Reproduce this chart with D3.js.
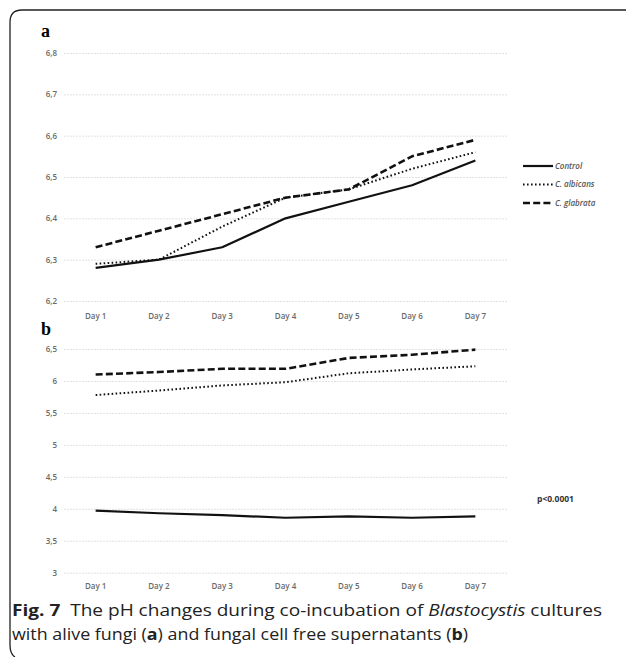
<!DOCTYPE html>
<html><head><meta charset="utf-8">
<script src="https://cdn.jsdelivr.net/npm/d3@7"></script>
<style>body{margin:0;background:#fff}svg{display:block}</style>
</head><body>
<svg id="chart" width="627" height="657"></svg>
<script>
const days = ["Day 1","Day 2","Day 3","Day 4","Day 5","Day 6","Day 7"];
const seriesNames = ["Control","C. albicans","C. glabrata"];
// Panel a: alive fungi
const aControl  = [6.28,6.30,6.33,6.40,6.44,6.48,6.54];
const aAlbicans = [6.29,6.30,6.38,6.45,6.47,6.52,6.56];
const aGlabrata = [6.33,6.37,6.41,6.45,6.47,6.55,6.59];
const aTicks = [6.2,6.3,6.4,6.5,6.6,6.7,6.8];
// Panel b: fungal cell free supernatants
const bControl  = [3.97,3.93,3.90,3.86,3.88,3.86,3.88];
const bAlbicans = [5.78,5.85,5.93,5.98,6.12,6.18,6.23];
const bGlabrata = [6.10,6.14,6.19,6.19,6.36,6.41,6.49];
const bTicks = [3,3.5,4,4.5,5,5.5,6,6.5];

const svg = d3.select("#chart");
const styles = [
  {w:2.2, dash:null},
  {w:2.0, dash:"1.6,2.4"},
  {w:2.6, dash:"7,3.2"}
];
const comma = v => String(v).replace(".", ",");
const tickFont = "Open Sans, sans-serif";

// frame
svg.append("path")
  .attr("d","M626,10 L22,10 Q10,10 10,22 L10,645 Q10,654 15,657")
  .attr("fill","none").attr("stroke","#222").attr("stroke-width",1.3);

const x = d3.scaleBand().domain(days).range([64,507]);
const cx = d => x(d) + x.bandwidth()/2;

function panel(yTop, yBot, domain, ticks, series, fmt, xLabelY){
  const y = d3.scaleLinear().domain(domain).range([yBot, yTop]);
  const g = svg.append("g");
  const grid = g.append("g").attr("transform","translate(64,0)")
    .call(d3.axisLeft(y).tickValues(ticks).tickSize(-443).tickFormat(fmt).tickPadding(7));
  grid.select(".domain").remove();
  grid.selectAll(".tick line").attr("stroke","#d9d9d9").attr("stroke-width",0.8).attr("stroke-dasharray","2,1");
  grid.selectAll(".tick text").attr("fill","#6a6a6a").attr("font-family",tickFont)
    .attr("font-size",8).attr("font-weight",600);
  const xa = g.append("g").attr("transform",`translate(0,${xLabelY})`)
    .call(d3.axisBottom(x).tickSize(0).tickPadding(0));
  xa.select(".domain").remove();
  xa.selectAll(".tick text").attr("fill","#6a6a6a").attr("font-family",tickFont)
    .attr("font-size",8).attr("font-weight",600).attr("dy","0.32em");
  const line = d3.line().x((d,i)=>cx(days[i])).y(d=>y(d));
  series.forEach((s,i)=>{
    g.append("path").datum(s).attr("d",line).attr("fill","none")
      .attr("stroke","#111").attr("stroke-width",styles[i].w)
      .attr("stroke-dasharray",styles[i].dash)
      .attr("stroke-linejoin","round");
  });
  return y;
}

panel(53, 301, [6.2,6.8], aTicks, [aControl,aAlbicans,aGlabrata], d=>comma(d3.format(".1f")(d)), 316);
panel(349, 572.7, [3,6.5], bTicks, [bControl,bAlbicans,bGlabrata], d=>comma(d), 586);

// panel letters
svg.append("text").attr("x",41).attr("y",37).text("a")
  .attr("font-family","Liberation Serif, serif").attr("font-weight","bold").attr("font-size",18);
svg.append("text").attr("x",41).attr("y",335).text("b")
  .attr("font-family","Liberation Serif, serif").attr("font-weight","bold").attr("font-size",18);

// legend
const lg = svg.append("g");
seriesNames.forEach((n,i)=>{
  const yy = 166 + i*18.5;
  lg.append("line").attr("x1",523).attr("x2",553).attr("y1",yy).attr("y2",yy)
    .attr("stroke","#111").attr("stroke-width",styles[i].w).attr("stroke-dasharray",styles[i].dash);
  lg.append("text").attr("x",555).attr("y",yy).attr("dy","0.35em").text(n)
    .attr("font-family",tickFont).attr("font-style","italic")
    .attr("font-size",8).attr("font-weight",600).attr("fill","#555");
});

svg.append("text").attr("x",537).attr("y",499).attr("dy","0.35em").text("p<0.0001")
  .attr("font-family",tickFont).attr("font-weight",700).attr("font-size",8.5).attr("fill","#333");

// caption
const cap = svg.append("g").attr("font-family","Open Sans, sans-serif").attr("font-size",16.5).attr("fill","#222");
const l1 = cap.append("text").attr("x",12).attr("y",616).attr("textLength",590).attr("lengthAdjust","spacingAndGlyphs");
l1.append("tspan").attr("font-weight","bold").text("Fig. 7");
l1.append("tspan").text("\u00a0\u00a0The pH changes during co-incubation of ");
l1.append("tspan").attr("font-style","italic").text("Blastocystis");
l1.append("tspan").text(" cultures");
const l2 = cap.append("text").attr("x",12).attr("y",640).attr("textLength",456).attr("lengthAdjust","spacingAndGlyphs");
l2.append("tspan").text("with alive fungi (");
l2.append("tspan").attr("font-weight","bold").text("a");
l2.append("tspan").text(") and fungal cell free supernatants (");
l2.append("tspan").attr("font-weight","bold").text("b");
l2.append("tspan").text(")");
</script>
</body></html>
